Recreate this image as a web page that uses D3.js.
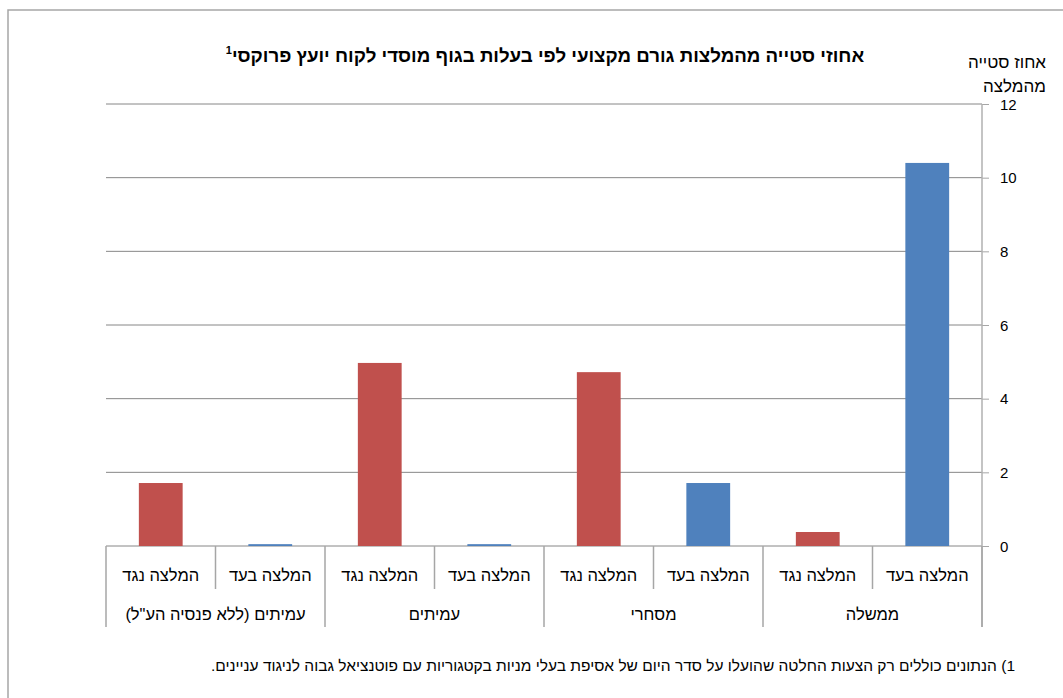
<!DOCTYPE html>
<html><head><meta charset="utf-8">
<script src="https://cdn.jsdelivr.net/npm/d3@7/dist/d3.min.js"></script>
<style>
body{margin:0;background:#fff;}
svg text{font-family:Arial,"Liberation Sans",sans-serif;}
</style></head>
<body><svg id="c" width="1063" height="698"></svg>
<script>
const groups = ["ממשלה","מסחרי","עמיתים","עמיתים (ללא  פנסיה הע\"ל)"];
const stances = ["המלצה בעד","המלצה נגד"];
const values = [
  [10.4, 0.38],
  [1.71, 4.72],
  [0.05, 4.97],
  [0.05, 1.71]
];
const yTicks = [0,2,4,6,8,10,12];
const title = "אחוזי סטייה מהמלצות גורם מקצועי לפי בעלות בגוף מוסדי לקוח יועץ פרוקסי";
const yTitle = ["אחוז סטייה","מהמלצה"];
const footnote = "1) הנתונים כוללים רק הצעות החלטה שהועלו על סדר היום של אסיפת בעלי מניות בקטגוריות עם פוטנציאל גבוה לניגוד עניינים.";
const colors = {"המלצה בעד":"#4F81BD","המלצה נגד":"#C0504D"};

const data = [];
groups.forEach((g,i)=>stances.forEach((s,j)=>data.push({key:g+"|"+s, group:g, stance:s, value:values[i][j]})));

const svg = d3.select("#c");
const L=106, R=982, T=104, B=546;

svg.append("rect").attr("x",8).attr("y",10).attr("width",1070).attr("height",700)
  .attr("fill","none").attr("stroke","#a6a6a6").attr("stroke-width",1.5);

const x = d3.scaleBand().domain(data.map(d=>d.key)).range([R,L]).paddingInner(0).paddingOuter(0);
const y = d3.scaleLinear().domain([0,12]).range([B,T]);

// gridlines
svg.append("g").selectAll("line").data(yTicks).join("line")
  .attr("x1",L).attr("x2",R).attr("y1",d=>y(d)).attr("y2",d=>y(d))
  .attr("stroke","#868686").attr("stroke-width",1);

// right axis
const ax = svg.append("g").attr("transform",`translate(${R},0)`)
  .call(d3.axisRight(y).tickValues(yTicks).tickSize(7).tickPadding(11).tickFormat(d3.format("d")));
ax.select(".domain").remove();
ax.selectAll(".tick line").attr("stroke","#a6a6a6");
ax.selectAll(".tick text").attr("font-size",15).attr("fill","#000").attr("font-family","'Open Sans',Arial,sans-serif").attr("dy","0.35em");
svg.append("line").attr("x1",R).attr("x2",R).attr("y1",T).attr("y2",627).attr("stroke","#b0b0b0").attr("stroke-width",1.5);

// bars
const bw = x.bandwidth()*0.4;
svg.append("g").selectAll("rect").data(data).join("rect")
  .attr("x",d=>x(d.key)+(x.bandwidth()-bw)/2)
  .attr("width",bw)
  .attr("y",d=>y(d.value))
  .attr("height",d=>y(0)-y(d.value))
  .attr("fill",d=>colors[d.stance]);

// category separators
const bounds = data.map((d,i)=>({x:x(d.key), outer: i%2===1}));
bounds.push({x:R, outer:true});
svg.append("g").selectAll("line").data(bounds).join("line")
  .attr("x1",d=>d.x).attr("x2",d=>d.x).attr("y1",B).attr("y2",d=>d.outer?627:589)
  .attr("stroke","#a6a6a6").attr("stroke-width",1.5);

// labels row 1
svg.append("g").selectAll("text").data(data).join("text")
  .attr("x",d=>x(d.key)+x.bandwidth()/2).attr("y",581)
  .attr("text-anchor","middle").attr("direction","rtl").attr("font-size",16.5)
  .text(d=>d.stance);
// labels row 2
svg.append("g").selectAll("text").data(groups).join("text")
  .attr("x",g=>(x(g+"|"+stances[0])+x.bandwidth()+x(g+"|"+stances[1]))/2).attr("y",620)
  .attr("text-anchor","middle").attr("direction","rtl").attr("font-size",16.5)
  .text(g=>g);

// title
const tt = svg.append("text").attr("x",545).attr("y",62).attr("text-anchor","middle")
  .attr("direction","rtl").attr("font-size",18.7).attr("font-weight","bold");
tt.append("tspan").text(title);
tt.append("tspan").attr("font-size",11).attr("dy",-8).text("1");

// y title
svg.append("g").selectAll("text").data(yTitle).join("text")
  .attr("x",1046).attr("y",(d,i)=>68+i*24).attr("text-anchor","start").attr("direction","rtl")
  .attr("font-size",17).text(d=>d);

// footnote
svg.append("text").attr("x",1015).attr("y",671).attr("text-anchor","start").attr("direction","rtl")
  .attr("font-size",15.5).text(footnote);
</script></body></html>
